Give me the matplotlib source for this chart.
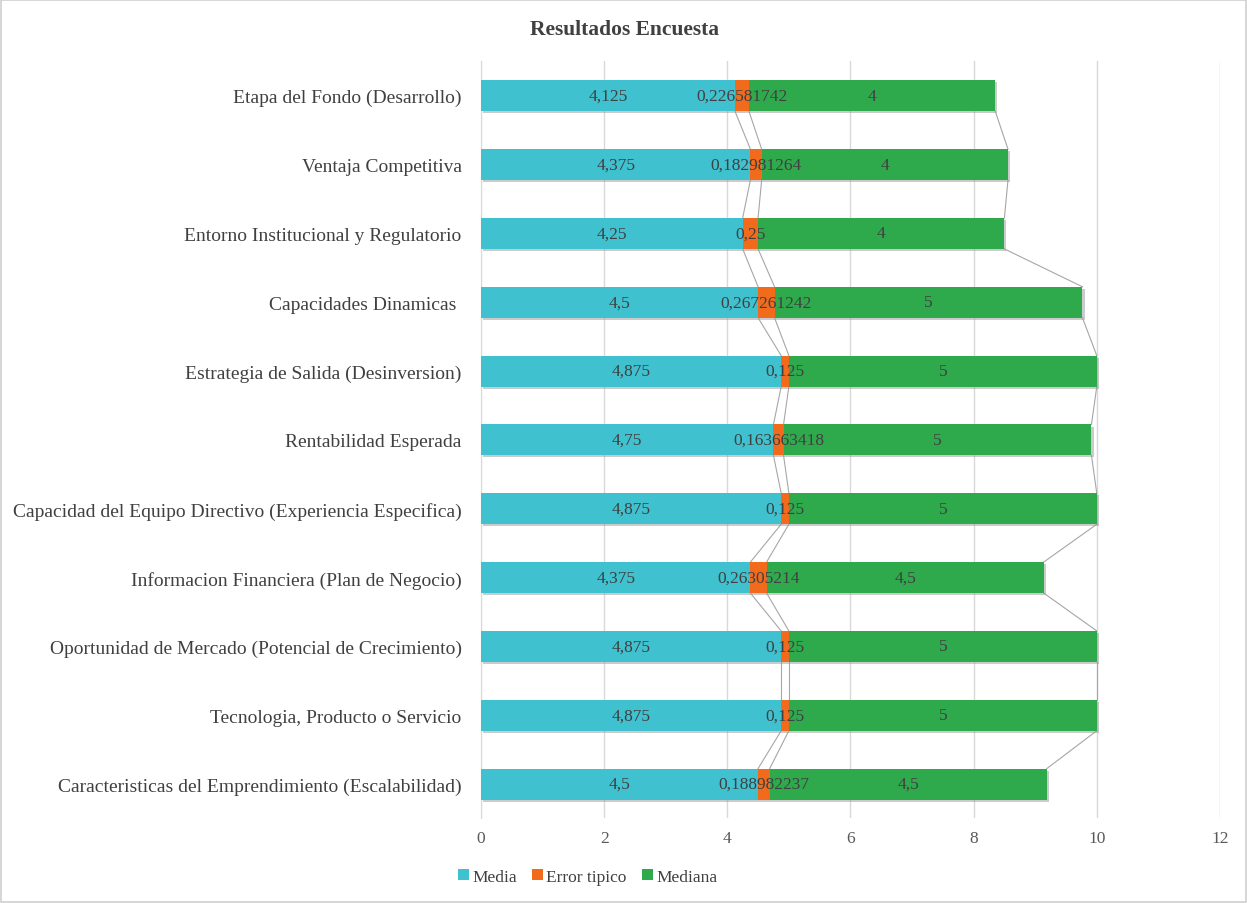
import matplotlib
matplotlib.use("Agg")
import matplotlib.pyplot as plt
import matplotlib.patheffects as pe
from matplotlib.patches import Rectangle
import numpy as np

# bottom-to-top, as drawn
categories = [
    "Caracteristicas del Emprendimiento (Escalabilidad)",
    "Tecnologia, Producto o Servicio",
    "Oportunidad de Mercado (Potencial de Crecimiento)",
    "Informacion Financiera (Plan de Negocio)",
    "Capacidad del Equipo Directivo (Experiencia Especifica)",
    "Rentabilidad Esperada",
    "Estrategia de Salida (Desinversion)",
    "Capacidades Dinamicas ",
    "Entorno Institucional y Regulatorio",
    "Ventaja Competitiva",
    "Etapa del Fondo (Desarrollo)",
]
media = [4.5, 4.875, 4.875, 4.375, 4.875, 4.75, 4.875, 4.5, 4.25, 4.375, 4.125]
error_tipico = [0.188982237, 0.125, 0.125, 0.26305214, 0.125, 0.163663418,
                0.125, 0.267261242, 0.25, 0.182981264, 0.226581742]
mediana = [4.5, 5, 5, 4.5, 5, 5, 5, 5, 4, 4, 4]
series_names = ["Media", "Error tipico", "Mediana"]
xticks = [0, 2, 4, 6, 8, 10, 12]

COLORS = ["#3fc1cf", "#f26b1d", "#2eaa4d"]
TXT = "#404040"
GRID = "#d9d9d9"
SERIF = "Liberation Serif"

plt.rcParams["font.family"] = SERIF

fig = plt.figure(figsize=(12.47, 9.04), dpi=100)
ax = fig.add_axes([0.3857, 0.0935, 0.5926, 0.8375])

y = np.arange(len(categories))
h = 0.45
shadow = [pe.SimplePatchShadow(offset=(1.5, -1.5), shadow_rgbFace="#999999", alpha=0.5), pe.Normal()]

left = np.zeros(len(categories))
ends = []
for vals, col, name in zip([media, error_tipico, mediana], COLORS, series_names):
    vals = np.array(vals, float)
    bars = ax.barh(y, vals, left=left, height=h, color=col, label=name, zorder=3)
    for b in bars:
        b.set_path_effects(shadow)
    for yi, l, v in zip(y, left, vals):
        lab = f"{v:.9f}".rstrip("0").rstrip(".").replace(".", ",")
        ax.text(l + v / 2, yi, lab, ha="center", va="center", fontsize=12.5,
                color=TXT, zorder=5)
    left = left + vals
    ends.append(left.copy())

# Excel-style series lines between neighbouring bars
for e in ends:
    for i in range(len(y) - 1):
        ax.plot([e[i], e[i + 1]], [y[i] + h / 2, y[i + 1] - h / 2],
                color="#a6a6a6", lw=0.8, zorder=2)

ax.set_xlim(0, 12)
ax.set_ylim(-0.5, len(categories) - 0.5)
ax.set_xticks(xticks)
ax.set_xticklabels([str(t) for t in xticks], fontsize=12.5, color="#595959")
ax.set_yticks(y)
ax.set_yticklabels(categories, fontsize=14, color=TXT)
ax.tick_params(axis="y", length=0, pad=14)
ax.tick_params(axis="x", length=0, pad=8)
ax.xaxis.grid(True, color=GRID, lw=1, zorder=0)
ax.set_axisbelow(True)
for s in ("top", "right", "bottom"):
    ax.spines[s].set_visible(False)
ax.spines["left"].set_color(GRID)

fig.text(0.501, 0.967, "Resultados Encuesta", ha="center", va="center",
         fontsize=15.5, weight="bold", color="#404040")

leg = ax.legend(loc="center left", bbox_to_anchor=(0.355, 0.029), bbox_transform=fig.transFigure,
                ncol=3, frameon=False, fontsize=12.5, handlelength=0.6, handleheight=0.6,
                handletextpad=0.2, columnspacing=0.9, labelcolor=TXT)
for hnd in leg.legend_handles:
    hnd.set_path_effects([])

fig.patches.append(Rectangle((0.001, 0.001), 0.998, 0.998, transform=fig.transFigure,
                             fill=False, edgecolor="#d0d0d0", lw=1.2))

fig.savefig("out.png", dpi=100)
